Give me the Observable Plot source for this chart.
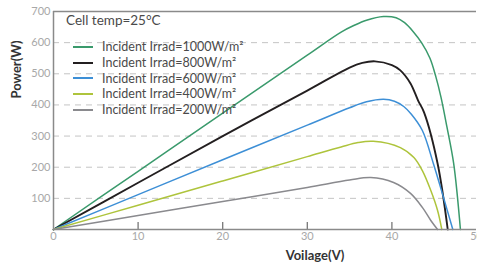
<!DOCTYPE html>
<html><head><meta charset="utf-8">
<script src="https://cdn.jsdelivr.net/npm/d3@7"></script>
<script src="https://cdn.jsdelivr.net/npm/@observablehq/plot@0.6"></script>
<style>
body{margin:0;background:#fff;}
#wrap{position:relative;width:477px;height:270px;font-family:Lato,"Open Sans",sans-serif;}
#title{position:absolute;left:66px;top:11px;font-size:13.5px;line-height:18px;color:#4a4a4a;white-space:nowrap;}
#legend{position:absolute;left:73px;top:39px;}
.row{height:15.8px;line-height:15.8px;font-size:12.5px;color:#4a4a4a;white-space:nowrap;display:flex;align-items:center;}
.sw{display:inline-block;width:20px;height:0;border-top:2px solid;margin-right:9px;}
</style></head><body><div id="wrap"></div>
<script>
const series = ["Incident Irrad=1000W/m²","Incident Irrad=800W/m²","Incident Irrad=600W/m²","Incident Irrad=400W/m²","Incident Irrad=200W/m²"];
const colors = ["#3a9a6c","#231f20","#3d8fd6","#aec43c","#8a8a8e"];
const title = "Cell temp=25°C";
const xTicks = [0,10,20,30,40,50];
const yTicks = [100,200,300,400,500,600,700];
const gridTicks = [100,200,300,400,500,600];

const v1000 = [0,10,20,30,34,35.5,37,39,40.5,41.5,42.5,43.5,44.5,45.2,45.8,46.5,47.3,48.1];
const p1000 = [0,187,374,560,634,655,672,684,680,664,636,600,550,490,425,330,212,0];
const v800  = [0,10,20,30,35,36.5,38,40,41,42.2,43.1,43.8,45.4,46.6];
const p800  = [0,150,300,446,520,535,540,528,511,469,414,376,212,0];
const v600  = [0,10,20,30,35,37,39,40.3,41.4,42.3,43.6,44.9,46.1,47.2];
const p600  = [0,112,224,335,391,410,418,412,395,370,318,212,103,0];
const v400  = [0,10,20,30,34,36,37.8,41,42.6,43.6,44.6,45.4,45.9];
const p400  = [0,78,156,234,265,279,283,263,231,189,125,61,0];
const v200  = [0,10,20,30,35,37.5,40.2,42.2,43.6,44.6,45.4];
const p200  = [0,45,90,135,159,167,151,116,71,29,0];

const volts = [v1000,v800,v600,v400,v200];
const powers = [p1000,p800,p600,p400,p200];
const data = series.flatMap((s,i)=>volts[i].map((v,j)=>({series:s, v, p:powers[i][j]})));

const chart = Plot.plot({
  width:477, height:270, marginLeft:53, marginRight:1, marginTop:11, marginBottom:41,
  style:{fontFamily:"Lato, 'Open Sans', sans-serif", background:"#fff", overflow:"visible"},
  x:{domain:[0,50]},
  y:{domain:[0,700]},
  color:{domain:series, range:colors},
  marks:[
    Plot.ruleY(gridTicks, {stroke:"#c4c4c4", strokeDasharray:"6,5", strokeWidth:1}),
    Plot.ruleY([700], {stroke:"#8a8a8a", strokeWidth:1.3}),
    Plot.axisX({ticks:xTicks, tickSize:0, tickPadding:3, fontSize:11, color:"#a8a8a8", label:null}),
    Plot.axisX({ticks:xTicks.slice(1,5), tickSize:7, dy:-7, tickFormat:()=>"", color:"#777", strokeWidth:1.3, label:null}),
    Plot.axisY({ticks:yTicks, tickSize:0, tickPadding:3, fontSize:11, color:"#a8a8a8", label:null}),
    Plot.line(data, {x:"v", y:"p", z:"series", stroke:"series", strokeWidth:d=>d.series===series[1]?1.9:1.5, curve:"catmull-rom"}),
    Plot.ruleY([0], {stroke:"#8a8a8a", strokeWidth:1.5}),
    Plot.ruleX([0], {stroke:"#8a8a8a", strokeWidth:1.5}),
    Plot.text(["Voilage(V)"], {frameAnchor:"bottom", dx:50, dy:30, fontWeight:"bold", fontSize:13, fill:"#333"}),
    Plot.text(["Power(W)"], {frameAnchor:"left", dx:-37, dy:-22, rotate:-90, fontWeight:"bold", fontSize:13, fill:"#333"})
  ]
});
const wrap = document.getElementById("wrap");
wrap.appendChild(chart);
const t = document.createElement("div"); t.id="title"; t.textContent = title; wrap.appendChild(t);
const lg = document.createElement("div"); lg.id="legend";
series.forEach((s,i)=>{
  const r = document.createElement("div"); r.className="row";
  const sw = document.createElement("span"); sw.className="sw"; sw.style.borderTopColor = colors[i];
  r.appendChild(sw); r.appendChild(document.createTextNode(s)); lg.appendChild(r);
});
wrap.appendChild(lg);
</script></body></html>
